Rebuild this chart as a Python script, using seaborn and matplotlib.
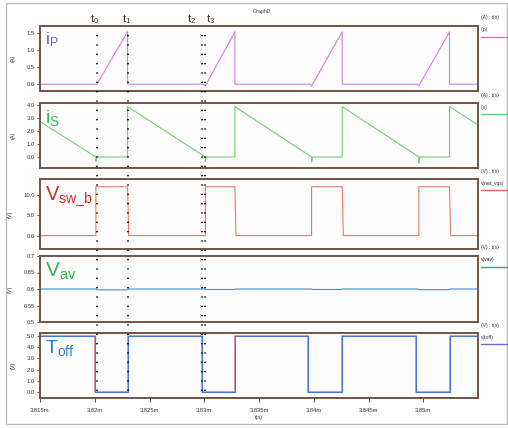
import matplotlib
matplotlib.use("Agg")
import matplotlib.pyplot as plt
import matplotlib.transforms as mtransforms
from matplotlib.lines import Line2D
from matplotlib.patches import Rectangle
import seaborn as sns

# tiempos en ms (las etiquetas llevan sufijo "m")
ip_t = [3.8150, 3.8202, 3.8230, 3.8230, 3.8299, 3.8301, 3.8328, 3.8328, 3.8396, 3.8398,
        3.8426, 3.8426, 3.8494, 3.8496, 3.8524, 3.8524, 3.8550]
ip_v = [0, 0, 1.53, 0, 0, -0.05, 1.53, 0, 0, -0.05, 1.53, 0, 0, -0.05, 1.53, 0, 0]

is_t = [3.8150, 3.8201, 3.8201, 3.8202, 3.8230, 3.8230, 3.8301, 3.8301, 3.8302, 3.8328,
        3.8328, 3.8398, 3.8398, 3.8399, 3.8426, 3.8426, 3.8496, 3.8496, 3.8497, 3.8524,
        3.8524, 3.8550]
is_v = [2.72, 0, -0.35, 0, 0, 3.87, 0, -0.35, 0, 0,
        3.87, 0, -0.4, 0, 0, 3.87, 0, -0.45, 0, 0,
        3.87, 2.46]

vsw_t = [3.8150, 3.8201, 3.8201, 3.8230, 3.8231, 3.8301, 3.8301, 3.8328, 3.8329, 3.8398,
         3.8398, 3.8426, 3.8427, 3.8496, 3.8496, 3.8524, 3.8525, 3.8550]
vsw_v = [0, 0, 12, 12, 0, 0, 12, 12, 0, 0, 12, 12, 0, 0, 12, 12, 0, 0]

vav_t = [3.8150, 3.8201, 3.8203, 3.8229, 3.8231, 3.8300, 3.8302, 3.8327, 3.8329, 3.8397,
         3.8399, 3.8425, 3.8427, 3.8495, 3.8497, 3.8523, 3.8525, 3.8550]
vav_v = [0.6, 0.6, 0.5975, 0.5975, 0.6, 0.6, 0.5985, 0.5985, 0.6, 0.6,
         0.5985, 0.5985, 0.6, 0.6, 0.598, 0.598, 0.6, 0.6]

toff_t = [3.8150, 3.8200, 3.8200, 3.8230, 3.8230, 3.8298, 3.8298, 3.8328, 3.8328, 3.8395,
          3.8395, 3.8426, 3.8426, 3.8493, 3.8493, 3.8524, 3.8524, 3.8550]
toff_v = [5, 5, 0, 0, 5, 5, 0, 0, 5, 5, 0, 0, 5, 5, 0, 0, 5, 5]

x_ticks = [3.815, 3.820, 3.825, 3.830, 3.835, 3.840, 3.845, 3.850]
x_labels = ["3.815m", "3.82m", "3.825m", "3.83m", "3.835m", "3.84m", "3.845m", "3.85m"]

marks_t = [3.8202, 3.8230, 3.8298, 3.8301]
marks_lbl = [r"$t_0$", r"$t_1$", r"$t_2$", r"$t_3$"]
marks_lbl_x = [95, 127, 192, 211]   # px, centro del texto

# (x, y, color línea, nombre grande, color nombre, tamaño, yticks, yticklabels, ylim,
#  unidad eje, unidad leyenda, nombre leyenda, color leyenda, top px, bottom px)
panels = [
    (ip_t, ip_v, "#d27fd6", r"$i_P$", "#6b5ea6", 12.5,
     [0, 0.5, 1.0, 1.5], ["0.0", "0.5", "1.0", "1.5"], (-0.2, 1.7),
     "(A)", "(A) : t(s)", "i(p)", "#d477b8", 26, 91),
    (is_t, is_v, "#6fcf6a", r"$i_S$", "#35b84c", 14,
     [0, 1, 2, 3, 4], ["0.0", "1.0", "2.0", "3.0", "4.0"], (-0.85, 4.15),
     "(A)", "(A) : t(s)", "i(s)", "#5fcf6a", 103, 168),
    (vsw_t, vsw_v, "#ea7a62", r"$V_{sw\_b}$", "#d22a2a", 14.5,
     [0, 5, 10], ["0.0", "5.0", "10.0"], (-3.3, 13.9),
     "(V)", "(V) : t(s)", "v(net_vgs)", "#e06a58", 179, 249),
    (vav_t, vav_v, "#3c8fd6", r"$V_{av}$", "#2fb84c", 15,
     [0.5, 0.55, 0.6, 0.65, 0.7], ["0.5", "0.55", "0.6", "0.65", "0.7"], (0.5, 0.7),
     "(V)", "(V) : t(s)", "v(vav)", "#3c8fd6", 256, 322),
    (toff_t, toff_v, "#4a76cc", r"$T_{off}$", "#2e7fc6", 14,
     [0, 1, 2, 3, 4, 5], ["0.0", "1.0", "2.0", "3.0", "4.0", "5.0"], (-0.54, 5.27),
     "(V)", "(V) : t(s)", "v(toff)", "#6a6ccc", 333, 398),
]

sns.set_theme(style="white")
plt.rcParams['font.family'] = ['Liberation Sans', 'DejaVu Sans']
plt.rcParams['mathtext.default'] = 'regular'

W, H = 508, 428
fig = plt.figure(figsize=(W / 100, H / 100), dpi=100, facecolor="white")

def fx(px): return px / W
def fy(px): return 1 - px / H

# marco gris exterior
fig.add_artist(Rectangle((fx(6), fy(424)), fx(501), (424 - 3) / H, transform=fig.transFigure,
                         fill=False, ec="#bdbdbd", lw=1.0))
fig.text(fx(262), fy(12), "Graph0", fontsize=3.8, ha="center", va="center", color="#333333")

frame_col = "#6e5548"
axes = []
for (t, v, col, name, ncol, nsize, yt, ytl, yl, ulab, uleg, lname, lcol, top, bot) in panels:
    ax = fig.add_axes([fx(40), fy(bot), fx(438), (bot - top) / H])
    ax.set_facecolor("#fdfdfd")
    if name == r"$T_{off}$":
        sns.lineplot(x=t, y=v, sort=False, estimator=None, ax=ax, color="#e58aa0", lw=1.3)
    sns.lineplot(x=t, y=v, sort=False, estimator=None, ax=ax, color=col, lw=0.8)
    ax.set_xlim(3.815, 3.855)
    ax.set_ylim(*yl)
    ax.set_yticks(yt)
    ax.set_yticklabels(ytl)
    ax.tick_params(axis="y", direction="out", length=2.5, width=0.6, color="#333333",
                   labelsize=4.2, labelcolor="#333333", pad=1, left=True)
    for s in ax.spines.values():
        s.set_color(frame_col)
        s.set_linewidth(1.4)
    ax.set_ylabel(ulab, fontsize=4, color="#333333", labelpad=8)
    ax.text(0.012, 0.93, name, transform=ax.transAxes, fontsize=nsize, color=ncol,
            ha="left", va="top")
    # leyenda a la derecha
    fig.text(fx(481), fy(top - 8), uleg, fontsize=3.6, color="#333333", ha="left", va="center")
    fig.text(fx(481), fy(top + 4), lname, fontsize=3.6, color="#333333", ha="left", va="center")
    fig.add_artist(Line2D([fx(481), fx(508)], [fy(top + 11), fy(top + 11)],
                          transform=fig.transFigure, color=lcol, lw=1.0))
    axes.append(ax)

for ax in axes[:-1]:
    ax.set_xticks([])
bax = axes[-1]
bax.set_xticks(x_ticks)
bax.set_xticklabels(x_labels)
bax.tick_params(axis="x", direction="out", length=3, width=0.6, color="#333333",
                labelsize=4.2, labelcolor="#333333", pad=4, bottom=True)
bax.set_xlabel("t(s)", fontsize=4, color="#333333", labelpad=2)

# líneas punteadas t0..t3
tr = mtransforms.blended_transform_factory(bax.transData, fig.transFigure)
for tm in marks_t:
    fig.add_artist(Line2D([tm, tm], [fy(35), fy(398)], transform=tr, color="black",
                          lw=1.2, linestyle=(0, (0.8, 4.8))))
for lbl, px in zip(marks_lbl, marks_lbl_x):
    fig.text(fx(px), fy(19), lbl, fontsize=8, color="#333333", ha="center", va="center")

fig.savefig("out.png", dpi=100, facecolor="white")
